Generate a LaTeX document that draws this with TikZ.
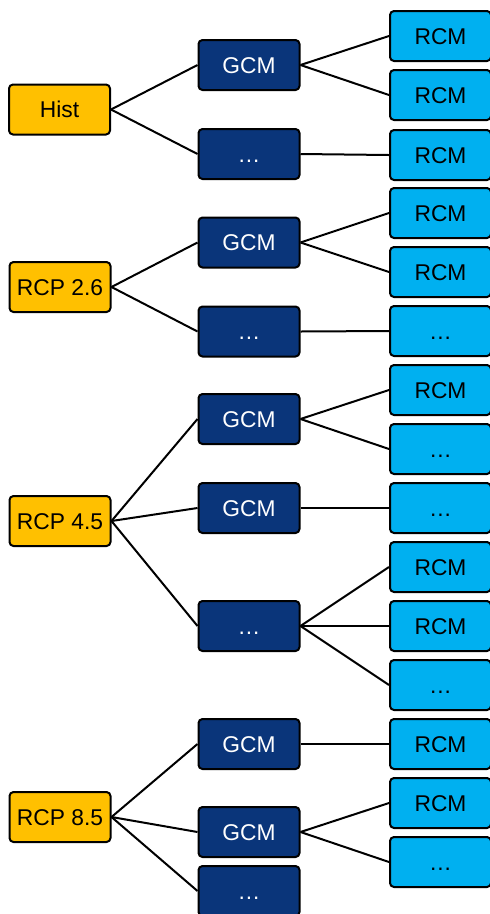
\documentclass[tikz,border=0pt]{standalone}
\usepackage{fontspec}
\setmainfont{Liberation Sans}
\definecolor{gold}{RGB}{255,192,0}
\definecolor{dblue}{RGB}{10,53,122}
\definecolor{lblue}{RGB}{0,176,240}
\begin{document}
\begin{tikzpicture}[x=1pt,y=-1pt,
  box/.style={draw=black,line width=2pt,rounded corners=4pt,minimum width=101pt,minimum height=50pt,inner sep=0pt,text height=16.3pt,text depth=0pt,font=\fontsize{22.8}{24}\selectfont},
  scen/.style={box,fill=gold,text=black},
  gcm/.style={box,fill=dblue,text=white},
  rcm/.style={box,fill=lblue,text=black},
  conn/.style={line width=2pt,draw=black}]
\useasboundingbox (0,0) rectangle (490,914);
% scenarios
\node[scen] (h) at (59.5,109.5) {Hist};
\node[scen] (s26) at (60,287) {RCP 2.6};
\node[scen] (s45) at (60,521) {RCP 4.5};
\node[scen] (s85) at (60,817) {RCP 8.5};
% GCMs
\node[gcm] (g1) at (249,65) {GCM};
\node[gcm] (g2) at (249,154) {…};
\node[gcm] (g3) at (249,242.5) {GCM};
\node[gcm] (g4) at (249,331.5) {…};
\node[gcm] (g5) at (249,419) {GCM};
\node[gcm] (g6) at (249,508) {GCM};
\node[gcm] (g7) at (249,626) {…};
\node[gcm] (g8) at (249,744) {GCM};
\node[gcm] (g9) at (249,832) {GCM};
\node[gcm] (g10) at (249,891) {…};
% RCMs
\node[rcm] (r1) at (440.5,36) {RCM};
\node[rcm] (r2) at (440.5,95) {RCM};
\node[rcm] (r3) at (440.5,155) {RCM};
\node[rcm] (r4) at (440.5,213) {RCM};
\node[rcm] (r5) at (440.5,272) {RCM};
\node[rcm] (r6) at (440.5,331) {…};
\node[rcm] (r7) at (440.5,390) {RCM};
\node[rcm] (r8) at (440.5,449) {…};
\node[rcm] (r9) at (440.5,508) {…};
\node[rcm] (r10) at (440.5,567) {RCM};
\node[rcm] (r11) at (440.5,626) {RCM};
\node[rcm] (r12) at (440.5,685) {…};
\node[rcm] (r13) at (440.5,744) {RCM};
\node[rcm] (r14) at (440.5,803) {RCM};
\node[rcm] (r15) at (440.5,862) {…};
% connectors
\foreach \a/\b in {h/g1,h/g2,s26/g3,s26/g4,s45/g5,s45/g6,s45/g7,s85/g8,s85/g9,s85/g10,
  g1/r1,g1/r2,g2/r3,g3/r4,g3/r5,g4/r6,g5/r7,g5/r8,g6/r9,g7/r10,g7/r11,g7/r12,g8/r13,g9/r14,g9/r15}
  \draw[conn] (\a.east) -- (\b.west);
\end{tikzpicture}
\end{document}
